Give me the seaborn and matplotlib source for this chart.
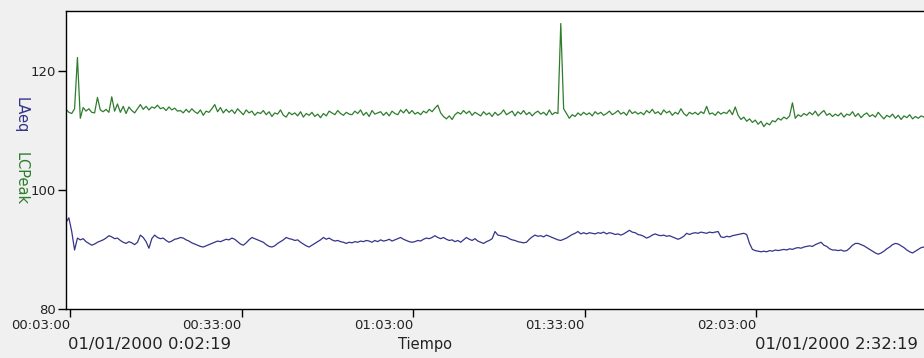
import numpy as np
import pandas as pd
import matplotlib
matplotlib.use("Agg")
import matplotlib.pyplot as plt
import seaborn as sns

# ---------------- data (30 s sampling, 00:02:19 -> 02:32:19) ----------------
start_time = "2000-01-01 00:02:19"
end_time = "2000-01-01 02:32:19"

lcpeak = [
    113.5, 113.0, 112.8, 113.6, 122.2, 112.0, 113.8, 113.2, 113.6, 113.0,
    112.9, 115.5, 113.4, 113.1, 113.5, 113.0, 115.6, 113.2, 114.4, 113.0,
    114.0, 112.8, 113.9, 113.3, 112.9, 113.6, 114.3, 113.5, 114.0, 113.4,
    113.9, 113.7, 114.2, 113.6, 113.8, 113.3, 113.9, 113.4, 113.7, 113.2,
    113.3, 112.9, 113.5, 113.0, 113.6, 113.1, 112.8, 113.4, 112.5, 113.2,
    113.0, 113.6, 114.3, 113.1, 113.8, 112.9, 113.5, 113.0, 113.4, 112.8,
    113.6, 113.1, 112.6, 113.4, 112.9, 113.2, 112.5, 113.0, 112.8, 113.3,
    112.6, 113.1, 112.3, 112.9, 112.7, 113.4, 112.5, 112.2, 113.0, 112.6,
    112.9, 112.4, 113.1, 112.2, 112.8, 112.5, 113.0, 112.3, 112.7, 112.1,
    112.8, 112.4, 113.2, 112.9, 112.6, 113.3, 112.8, 112.5, 113.0, 112.7,
    112.6, 113.2, 112.8, 113.4, 112.5, 113.0, 112.3, 113.3, 112.7, 112.9,
    113.1, 112.5, 113.0, 112.4, 113.2, 112.8, 112.6, 113.4, 112.9, 113.5,
    112.8, 113.3, 112.7, 113.0, 112.6, 113.2, 112.9, 113.5, 113.1, 113.7,
    114.2, 112.9, 112.3, 111.9, 112.4, 111.8, 112.6, 113.0, 112.7, 113.3,
    112.8, 113.2, 112.5, 113.0, 112.7, 112.4, 113.1, 112.6, 112.9, 112.3,
    113.0, 112.5, 112.8, 113.4, 112.6, 112.9, 113.2, 112.4, 113.1, 112.7,
    113.3, 112.6, 113.0, 112.4, 112.9, 113.2, 112.7, 113.0, 112.5, 113.4,
    112.6, 113.0, 112.8, 127.9, 113.6, 112.8, 112.0, 112.6, 112.3, 112.9,
    112.5, 113.0, 112.6, 112.9, 112.4, 113.1, 112.7, 113.0, 112.5, 112.8,
    113.2, 112.6, 112.9, 113.3, 112.7, 113.0, 112.5, 113.4, 112.8, 113.1,
    112.7, 113.0, 112.6, 113.3, 112.9, 113.5, 112.8, 113.1, 112.6, 113.4,
    112.9, 113.2, 112.5, 113.0, 112.7, 113.6, 112.8, 112.4, 113.0, 112.7,
    113.0, 112.6, 113.1, 112.8, 114.0, 112.7, 112.9, 112.5, 113.1, 112.7,
    113.0, 112.8, 113.4, 112.6, 113.9, 112.5, 111.8, 112.2, 111.5, 111.9,
    111.3, 111.7, 111.0, 111.5, 110.6, 111.2, 110.9, 111.6, 111.4, 112.0,
    111.7, 112.2, 111.9, 112.4, 114.6, 112.0, 112.6, 112.3, 112.8, 112.5,
    113.0, 112.6, 113.2, 112.4, 112.9, 113.3, 112.5, 112.8, 112.3, 112.7,
    112.4, 112.9, 112.2, 112.7, 112.5, 113.1, 112.3, 112.8, 112.1, 112.6,
    112.9, 112.3, 112.6, 112.2, 113.0, 112.4, 111.9, 112.5, 112.2, 112.7,
    112.0, 112.5, 111.8, 112.4, 112.1, 112.6, 111.9, 112.3, 112.0, 112.4,
    112.2,
]

laeq = [
    94.5, 95.3, 93.0, 89.9, 91.9, 91.6, 91.8, 91.3, 91.0, 90.7,
    90.9, 91.2, 91.4, 91.6, 91.9, 92.3, 92.1, 91.8, 91.9, 91.5,
    91.2, 91.0, 91.3, 91.1, 90.8, 91.2, 92.4, 92.0, 91.3, 90.2,
    91.8, 92.4, 92.0, 91.8, 91.9, 91.5, 91.2, 91.4, 91.7, 91.8,
    92.0, 91.9, 91.6, 91.4, 91.1, 90.9, 90.7, 90.5, 90.4, 90.6,
    90.8, 91.0, 91.2, 91.4, 91.3, 91.5, 91.7, 91.6, 91.9, 91.7,
    91.3, 90.9, 90.7, 91.1, 91.6, 92.0, 91.8, 91.6, 91.4, 91.2,
    90.8, 90.5, 90.4, 90.6, 91.0, 91.3, 91.6, 92.0, 91.8, 91.7,
    91.5, 91.6, 91.2, 90.9, 90.6, 90.4, 90.7, 91.0, 91.3, 91.6,
    92.0, 91.7, 91.9, 91.6, 91.4, 91.5, 91.3, 91.2, 91.0, 91.2,
    91.1, 91.3, 91.2, 91.4, 91.3, 91.5, 91.4, 91.2, 91.5, 91.3,
    91.6, 91.4, 91.5, 91.7, 91.4, 91.6, 91.8, 92.0, 91.7, 91.5,
    91.3, 91.2, 91.3, 91.5, 91.4, 91.7, 91.9, 91.8, 92.0, 92.3,
    92.0, 91.8, 92.0, 91.7, 91.5, 91.6, 91.3, 91.5, 91.2, 91.6,
    92.0, 91.7, 91.5, 91.8, 91.4, 91.2, 91.0, 91.3, 91.5, 91.8,
    93.0, 92.4, 92.3, 92.2, 92.1, 91.8, 91.6, 91.5, 91.3, 91.2,
    91.1, 91.2, 91.7, 92.1, 92.4, 92.2, 92.3, 92.1, 92.4, 92.2,
    92.0, 91.8, 91.6, 91.5, 91.7, 91.9, 92.2, 92.5, 92.7, 93.0,
    92.6, 92.8, 92.6, 92.8, 92.7, 92.6, 92.8, 92.7, 92.9, 92.6,
    92.8, 92.7, 92.5, 92.6, 92.4, 92.6, 92.9, 93.2, 92.9, 92.8,
    92.5, 92.4, 92.2, 91.9, 92.1, 92.4, 92.6, 92.4, 92.3, 92.4,
    92.2, 92.3, 92.1, 91.9, 91.7, 91.9, 92.2, 92.7, 92.5, 92.7,
    92.8, 92.7, 92.9, 92.8, 92.7, 92.9, 92.8, 92.9, 93.0, 92.1,
    92.0, 92.2, 92.1, 92.3, 92.4, 92.5, 92.6, 92.7, 92.5, 91.0,
    90.0, 89.8, 89.7, 89.6, 89.7, 89.6, 89.8, 89.7, 89.9, 89.8,
    89.9, 90.0, 89.9, 90.1, 90.0, 90.2, 90.3, 90.2, 90.4, 90.5,
    90.6, 90.5, 90.8, 91.0, 91.2, 90.7, 90.5, 90.1, 89.9, 89.9,
    89.8, 89.9, 89.7, 89.8, 90.2, 90.7, 91.0, 91.0, 90.8, 90.6,
    90.3, 90.0, 89.7, 89.4, 89.2, 89.4, 89.7, 90.1, 90.4, 90.8,
    91.0, 90.9, 90.6, 90.3, 89.9, 89.6, 89.4, 89.7, 90.0, 90.3,
    90.4,
]

y_ticks = [80, 100, 120]
x_tick_labels = ["00:03:00", "00:33:00", "01:03:00", "01:33:00", "02:03:00"]
start_label = "01/01/2000 0:02:19"
end_label = "01/01/2000 2:32:19"
x_title = "Tiempo"
y_title_1 = "LAeq"
y_title_2 = "LCPeak"

# ---------------- build frame ----------------
times = pd.date_range(start_time, periods=len(lcpeak), freq="30s")
df = pd.DataFrame({"Tiempo": times, "LCPeak": lcpeak, "LAeq": laeq})

GREEN = "#2e7d2e"
BLUE = "#34348a"
BG = "#f0f0f0"

sns.set_style("white")
plt.rcParams["font.family"] = ["DejaVu Sans"]

fig = plt.figure(figsize=(9.24, 3.58), dpi=100, facecolor=BG)
ax = fig.add_axes([66 / 924, 1 - 309 / 358, 1 - 66 / 924, (309 - 11) / 358])
ax.set_facecolor("white")

sns.lineplot(data=df, x="Tiempo", y="LCPeak", ax=ax, color=GREEN, linewidth=0.9)
sns.lineplot(data=df, x="Tiempo", y="LAeq", ax=ax, color=BLUE, linewidth=0.9)

ax.set_xlim(pd.Timestamp(start_time), pd.Timestamp(end_time))
ax.set_ylim(80, 130)

ax.set_yticks(y_ticks)
ax.set_yticklabels([str(v) for v in y_ticks], fontsize=9.5, color="#222222")

tick_pos = [pd.Timestamp("2000-01-01 " + lbl) for lbl in x_tick_labels]
ax.set_xticks(tick_pos)
ax.set_xticklabels(x_tick_labels, fontsize=9.5, color="#222222", ha="right")

ax.tick_params(axis="both", direction="out", length=6, width=1, color="black",
               pad=1, bottom=True, left=True)
for lbl in ax.get_xticklabels():
    lbl.set_horizontalalignment("right")

for side in ["left", "top", "bottom"]:
    ax.spines[side].set_visible(True)
    ax.spines[side].set_color("black")
    ax.spines[side].set_linewidth(1.0)
ax.spines["right"].set_visible(False)

ax.set_xlabel("")
ax.set_ylabel("")

# bottom captions
fig.text(68 / 924, 1 - 345 / 358, start_label, fontsize=11.8, ha="left", va="center", color="#222222")
fig.text(425 / 924, 1 - 345 / 358, x_title, fontsize=10.5, ha="center", va="center", color="#222222")
fig.text(918 / 924, 1 - 345 / 358, end_label, fontsize=11.8, ha="right", va="center", color="#222222")

# rotated y titles
fig.text(21 / 924, 1 - 115 / 358, y_title_1, fontsize=10.5, rotation=270, ha="center", va="center", color=BLUE)
fig.text(21 / 924, 1 - 179 / 358, y_title_2, fontsize=10.5, rotation=270, ha="center", va="center", color=GREEN)

fig.savefig("out.png", dpi=100, facecolor=BG)
